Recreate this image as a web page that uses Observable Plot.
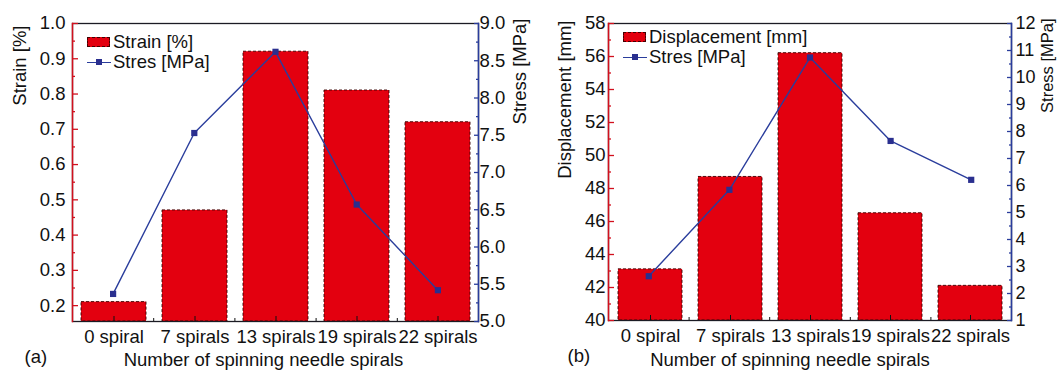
<!DOCTYPE html>
<html>
<head>
<meta charset="utf-8">
<script src="https://cdn.jsdelivr.net/npm/d3@7"></script>
<script src="https://cdn.jsdelivr.net/npm/@observablehq/plot@0.6"></script>
<style>
  body { margin: 0; background: white; }
  #wrap { position: relative; width: 1057px; height: 370px; overflow: hidden; font-family: "Liberation Sans", Arial, sans-serif; }
  .panel { position: absolute; top: 0; height: 370px; }
  .panel svg { position: absolute; top: 0; left: 0; }
  .legend { position: absolute; font-size: 18.5px; color: #111; line-height: 20px; }
  .legend .row { display: flex; align-items: center; height: 20px; }
  .legend .sw { width: 23px; height: 10px; background: #e3000f; border: 1px dashed #400; box-sizing: border-box; margin-right: 3px; }
  .legend .ln { position: relative; width: 24px; height: 10px; margin-right: 2px; }
  .legend .ln::before { content: ""; position: absolute; left: 0; right: 0; top: 4.5px; border-top: 1.2px solid #2a3d9c; }
  .legend .ln::after { content: ""; position: absolute; left: 9px; top: 2px; width: 6px; height: 6px; background: #2a2f8f; }
</style>
</head>
<body>
<div id="wrap"></div>
<script>
// ---- data ----
const categories = ["0 spiral", "7 spirals", "13 spirals", "19 spirals", "22 spirals"];
const strain = [0.21, 0.47, 0.92, 0.81, 0.72];
const stressA = [5.37, 7.53, 8.62, 6.57, 5.42];
const displacement = [43.1, 48.7, 56.2, 46.5, 42.1];
const stressB = [2.64, 5.84, 10.74, 7.65, 6.21];

const strainTicks = [0.2, 0.3, 0.4, 0.5, 0.6, 0.7, 0.8, 0.9, 1.0];
const strainMinor = [0.25, 0.35, 0.45, 0.55, 0.65, 0.75, 0.85, 0.95];
const stressATicks = [5.0, 5.5, 6.0, 6.5, 7.0, 7.5, 8.0, 8.5, 9.0];
const stressAMinor = [5.25, 5.75, 6.25, 6.75, 7.25, 7.75, 8.25, 8.75];
const dispTicks = [40, 42, 44, 46, 48, 50, 52, 54, 56, 58];
const dispMinor = [41, 43, 45, 47, 49, 51, 53, 55, 57];
const stressBTicks = [1, 2, 3, 4, 5, 6, 7, 8, 9, 10, 11, 12];
const stressBMinor = [1.5, 2.5, 3.5, 4.5, 5.5, 6.5, 7.5, 8.5, 9.5, 10.5, 11.5];
const boundaryTicks = [0.5, 1.5, 2.5, 3.5];

const RED = "#e3000f";
const AXRED = "#d2101e";
const NAVY = "#2a3d9c";
const FONT = '"Liberation Sans", Arial, sans-serif';

function panel(cfg) {
  const div = document.createElement("div");
  div.className = "panel";
  div.style.left = cfg.left + "px";
  div.style.width = cfg.width + "px";
  document.getElementById("wrap").appendChild(div);

  const rows = categories.map((c, i) => ({cat: c, i, bar: cfg.bars[i], line: cfg.line[i]}));
  const common = {
    width: cfg.width, height: 370,
    marginLeft: cfg.ml, marginRight: cfg.mr, marginTop: 23, marginBottom: cfg.mb,
    style: {fontSize: "18.5px", fontFamily: FONT, background: "transparent", color: "#111", overflow: "visible"}
  };

  const bars = Plot.plot({
    ...common,
    x: {type: "band", domain: categories, paddingInner: 0.2, paddingOuter: 0.1, axis: null},
    y: {domain: cfg.yDomain, axis: null},
    marks: [
      Plot.barY(rows, {x: "cat", y1: cfg.yDomain[0], y2: "bar", fill: RED, stroke: "#3a0000", strokeWidth: 0.9, strokeDasharray: "3,2"}),
      Plot.frame({stroke: "#1b1b24", strokeWidth: 1.3}),
      Plot.frame({anchor: "left", stroke: AXRED, strokeWidth: 1.5}),
      Plot.axisX({anchor: "bottom", tickSize: -5, tickPadding: 13, stroke: "#111", fill: "#111", label: null}),
      Plot.axisY(cfg.yTicks, {anchor: "left", tickSize: -6, tickPadding: cfg.lpad, tickFormat: cfg.yFmt, stroke: AXRED, strokeWidth: 1.3, fill: "#111", label: null}),
      Plot.axisY(cfg.yMinor, {anchor: "left", tickSize: -3, tickFormat: () => "", stroke: AXRED, strokeWidth: 1.3, label: null}),
      Plot.text([cfg.yLabel], {frameAnchor: "top-left", dx: cfg.ylx, dy: cfg.yly, rotate: -90, textAnchor: "end", lineAnchor: "middle", fill: "#111"}),
      Plot.text(["Number of spinning needle spirals"], {frameAnchor: "bottom", dx: cfg.xtdx, dy: cfg.xtdy, lineAnchor: "middle", fill: "#111"}),
      Plot.text([cfg.tag], {frameAnchor: "bottom-left", dx: cfg.tagdx, dy: 36, lineAnchor: "middle", fill: "#111"})
    ]
  });
  div.appendChild(bars);

  const over = Plot.plot({
    ...common,
    x: {type: "linear", domain: [-0.5, 4.5], axis: null},
    y: {domain: cfg.y2Domain, axis: null},
    marks: [
      Plot.line(rows, {x: "i", y: "line", stroke: NAVY, strokeWidth: 1.4}),
      Plot.dot(rows, {x: "i", y: "line", symbol: "square", r: 3.5, fill: "#2a2f8f", stroke: "none"}),
      Plot.frame({anchor: "right", stroke: NAVY, strokeWidth: 1.5}),
      Plot.axisY(cfg.y2Ticks, {anchor: "right", tickSize: -5, tickPadding: cfg.rpad, tickFormat: cfg.y2Fmt, stroke: NAVY, strokeWidth: 1.3, fill: "#111", label: null, fontSize: cfg.rfs}),
      Plot.axisY(cfg.y2Minor, {anchor: "right", tickSize: -3, tickFormat: () => "", stroke: NAVY, strokeWidth: 1.3, label: null}),
      Plot.axisX(boundaryTicks, {anchor: "bottom", tickSize: -3, tickFormat: () => "", stroke: "#111", label: null}),
      Plot.text([cfg.y2Label], {frameAnchor: "top-right", dx: cfg.y2lx, dy: -5, rotate: -90, textAnchor: "end", lineAnchor: "middle", fill: "#111", fontSize: cfg.rlfs})
    ]
  });
  div.appendChild(over);

  const leg = document.createElement("div");
  leg.className = "legend";
  leg.style.left = cfg.legX + "px";
  leg.style.top = cfg.legY + "px";
  leg.innerHTML = `<div class="row"><span class="sw"></span><span>${cfg.barName}</span></div>` +
                  `<div class="row"><span class="ln"></span><span>Stres [MPa]</span></div>`;
  div.appendChild(leg);
}

panel({
  left: 0, width: 528, ml: 72, mr: 50, mb: 49,
  bars: strain, line: stressA,
  yDomain: [0.155, 1.0], yTicks: strainTicks, yMinor: strainMinor, yFmt: d3.format(".1f"), lpad: 13,
  y2Domain: [5, 9], y2Ticks: stressATicks, y2Minor: stressAMinor, y2Fmt: d3.format(".1f"), rpad: 6, rfs: "18.5px",
  yLabel: "Strain [%]", ylx: -52, yly: 2,
  y2Label: "Stress [MPa]", y2lx: 42, rlfs: "18.5px",
  xtdx: -12, xtdy: 39, tag: "(a)", tagdx: -48,
  barName: "Strain [%]", legX: 87, legY: 32
});

panel({
  left: 528, width: 529, ml: 80, mr: 46, mb: 50,
  bars: displacement, line: stressB,
  yDomain: [40, 58], yTicks: dispTicks, yMinor: dispMinor, yFmt: d3.format("d"), lpad: 9,
  y2Domain: [1, 12], y2Ticks: stressBTicks, y2Minor: stressBMinor, y2Fmt: d3.format("d"), rpad: 9, rfs: "18px",
  yLabel: "Displacement [mm]", ylx: -43, yly: -3,
  y2Label: "Stress [MPa]", y2lx: 36, rlfs: "16.5px",
  xtdx: -20, xtdy: 40, tag: "(b)", tagdx: -41,
  barName: "Displacement [mm]", legX: 95, legY: 27
});
</script>
</body>
</html>
